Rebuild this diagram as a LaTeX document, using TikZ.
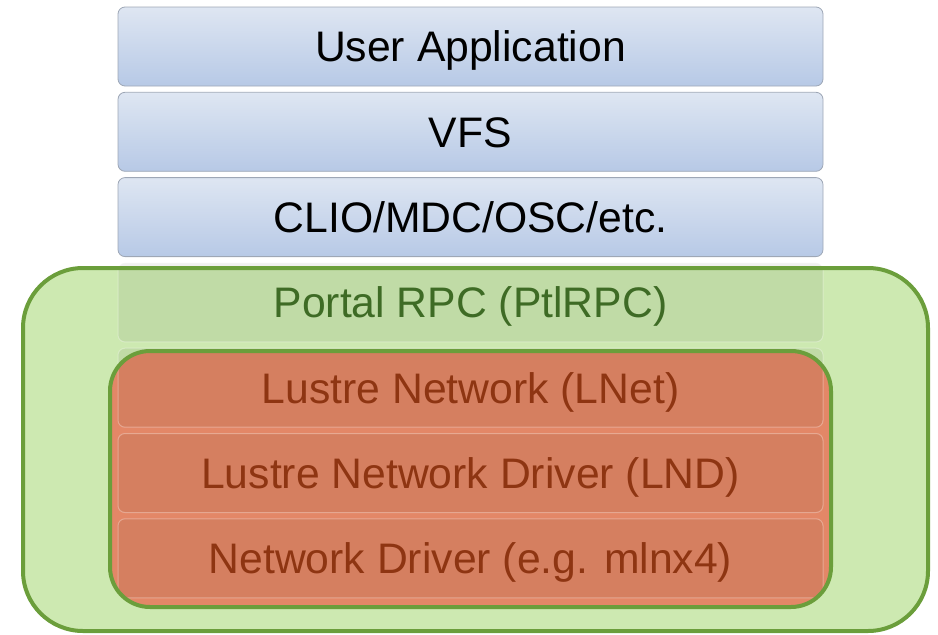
\documentclass[tikz,border=0pt]{standalone}
\usepackage{fontspec}
\setmainfont{Liberation Sans}
\usetikzlibrary{positioning}

\definecolor{layertop}{HTML}{DEE6F2}
\definecolor{layerbot}{HTML}{B7C9E6}
\definecolor{layerline}{HTML}{9EA7B6}
\definecolor{rpcfill}{HTML}{CDE9B1}
\definecolor{rpcline}{HTML}{6B9E3B}
\definecolor{rpctext}{HTML}{3E6B25}
\definecolor{lnetfill}{HTML}{E38767}
\definecolor{lnettext}{HTML}{8E3512}

\tikzset{
  layer/.style={rectangle, rounded corners=7pt, minimum width=705pt,
    minimum height=79pt, inner sep=0pt, text height=30.6pt, text depth=0pt,
    font=\fontsize{42.7}{50}\selectfont},
  userlayer/.style={layer, draw=layerline, line width=0.8pt,
    top color=layertop, bottom color=layerbot},
  tintlayer/.style={layer, fill=black, fill opacity=0.06, draw=white,
    draw opacity=0.3, line width=1pt, text opacity=1},
  rpclayer/.style={tintlayer, text=rpctext},
  lnetlayer/.style={tintlayer, text=lnettext},
  rpcgroup/.style={rounded corners=60pt},
  lnetgroup/.style={rounded corners=40pt},
}

\begin{document}
\begin{tikzpicture}[x=1pt,y=-1pt,node distance=85.3pt,on grid]
  \useasboundingbox (0,0) rectangle (938,635);
  % group fills behind the layers
  \fill[rpcgroup, rpcfill] (23,268) rectangle (928,631);
  \fill[lnetgroup, lnetfill] (110,351) rectangle (831,607);

  \node[userlayer] (app) at (470.5,46.5) {User Application};
  \node[userlayer] (vfs) [below=of app] {VFS};
  \node[userlayer] (clio) [below=of vfs] {CLIO/MDC/OSC/etc.};
  \node[rpclayer] (ptlrpc) [below=of clio] {Portal RPC (PtlRPC)};
  \node[lnetlayer] (lnet) [below=of ptlrpc] {Lustre Network (LNet)};
  \node[lnetlayer] (lnd) [below=of lnet] {Lustre Network Driver (LND)};
  \node[lnetlayer] (driver) [below=of lnd] {Network Driver (e.g. mlnx4)};

  % group borders on top
  \draw[rpcgroup, rpcline, line width=4pt] (23,268) rectangle (928,631);
  \draw[lnetgroup, rpcline, line width=4pt] (110,351) rectangle (831,607);
\end{tikzpicture}
\end{document}
